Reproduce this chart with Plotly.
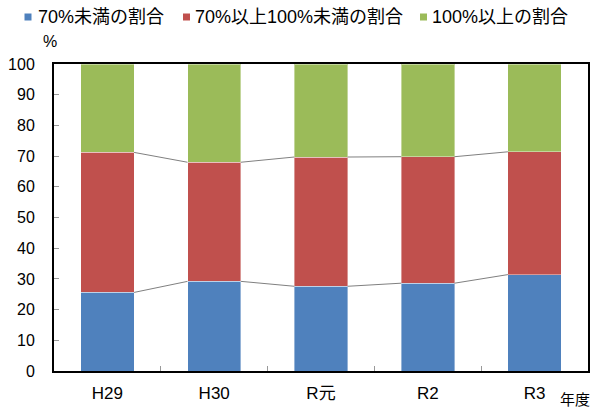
import plotly.graph_objects as go

categories = ["H29", "H30", "R元", "R2", "R3"]
under70 = [25.6, 29.2, 27.6, 28.6, 31.4]
from70to100 = [45.6, 38.8, 42.1, 41.2, 40.0]
over100 = [28.8, 32.0, 30.3, 30.2, 28.6]
series_names = ["70%未満の割合", "70%以上100%未満の割合", "100%以上の割合"]
colors = ["#4F81BD", "#C0504D", "#9BBB59"]
y_ticks = list(range(0, 101, 10))

W, H = 601, 407
ML, MR, MT, MB = 54, 13, 64, 36
PW, PH = W - ML - MR, H - MT - MB
BAR_W = 0.5
FONT = "'Liberation Sans', Arial, 'Noto Sans CJK JP', sans-serif"


def px_x(p):
    return (p - ML) / PW


def px_y(p):
    return (H - MB - p) / PH


fig = go.Figure()
for name, vals, col in zip(series_names, [under70, from70to100, over100], colors):
    fig.add_trace(go.Bar(
        x=categories, y=vals, name=name, width=BAR_W, showlegend=False,
        marker=dict(color=col, line=dict(color="rgba(255,255,255,0.4)", width=1)),
    ))

# series lines connecting the tops of the lower two segments
cum1 = under70
cum2 = [a + b for a, b in zip(under70, from70to100)]
for cum in (cum1, cum2):
    for i in range(len(categories) - 1):
        fig.add_trace(go.Scatter(
            x=[i + BAR_W / 2, i + 1 - BAR_W / 2], y=[cum[i], cum[i + 1]],
            mode="lines", line=dict(color="#808080", width=1),
            xaxis="x2", showlegend=False, hoverinfo="skip",
        ))

# custom legend (marker square + text) laid out like the reference
legend_marker_x = [28, 186.5, 423.5]
legend_text_x = [36, 193, 430]
legend_y = 17
shapes, annotations = [], []
for name, col, mx, tx in zip(series_names, colors, legend_marker_x, legend_text_x):
    shapes.append(dict(type="rect", xref="paper", yref="paper",
                       x0=px_x(mx - 3.5), x1=px_x(mx + 3.5),
                       y0=px_y(legend_y + 3.5), y1=px_y(legend_y - 3.5),
                       fillcolor=col, line=dict(width=0)))
    annotations.append(dict(text=name, x=px_x(tx), y=px_y(legend_y), xref="paper", yref="paper",
                            xanchor="left", yanchor="middle", showarrow=False,
                            font=dict(size=18)))

annotations.append(dict(text="%", x=px_x(50), y=px_y(42), xref="paper", yref="paper",
                        xanchor="center", yanchor="middle", showarrow=False, font=dict(size=16)))
annotations.append(dict(text="年度", x=px_x(592), y=px_y(399), xref="paper", yref="paper",
                        xanchor="right", yanchor="middle", showarrow=False, font=dict(size=15)))

fig.update_layout(
    barmode="stack",
    width=W, height=H,
    margin=dict(l=ML, r=MR, t=MT, b=MB, autoexpand=False),
    paper_bgcolor="white", plot_bgcolor="white",
    font=dict(family=FONT, size=16, color="black"),
    showlegend=False,
    xaxis=dict(type="category", range=[-0.5, 4.5], showline=True, linecolor="black",
               linewidth=2, mirror=True, ticks="inside", tickson="boundaries",
               ticklen=5, tickcolor="#999999", showgrid=False, zeroline=False,
               automargin=False, ticklabelstandoff=6, tickfont=dict(size=17)),
    xaxis2=dict(overlaying="x", range=[-0.5, 4.5], visible=False),
    yaxis=dict(range=[0, 100], tickvals=y_ticks, showline=True, linecolor="black",
               linewidth=2, mirror=True, ticks="inside", ticklen=5, tickcolor="#999999",
               showgrid=False, zeroline=False, ticklabelstandoff=14, automargin=False,
               tickfont=dict(size=16)),
    shapes=shapes,
    annotations=annotations,
)

fig.write_html("out.html", config={"displayModeBar": False},
               post_script="document.body.style.margin='0';document.body.style.overflow='hidden';")
